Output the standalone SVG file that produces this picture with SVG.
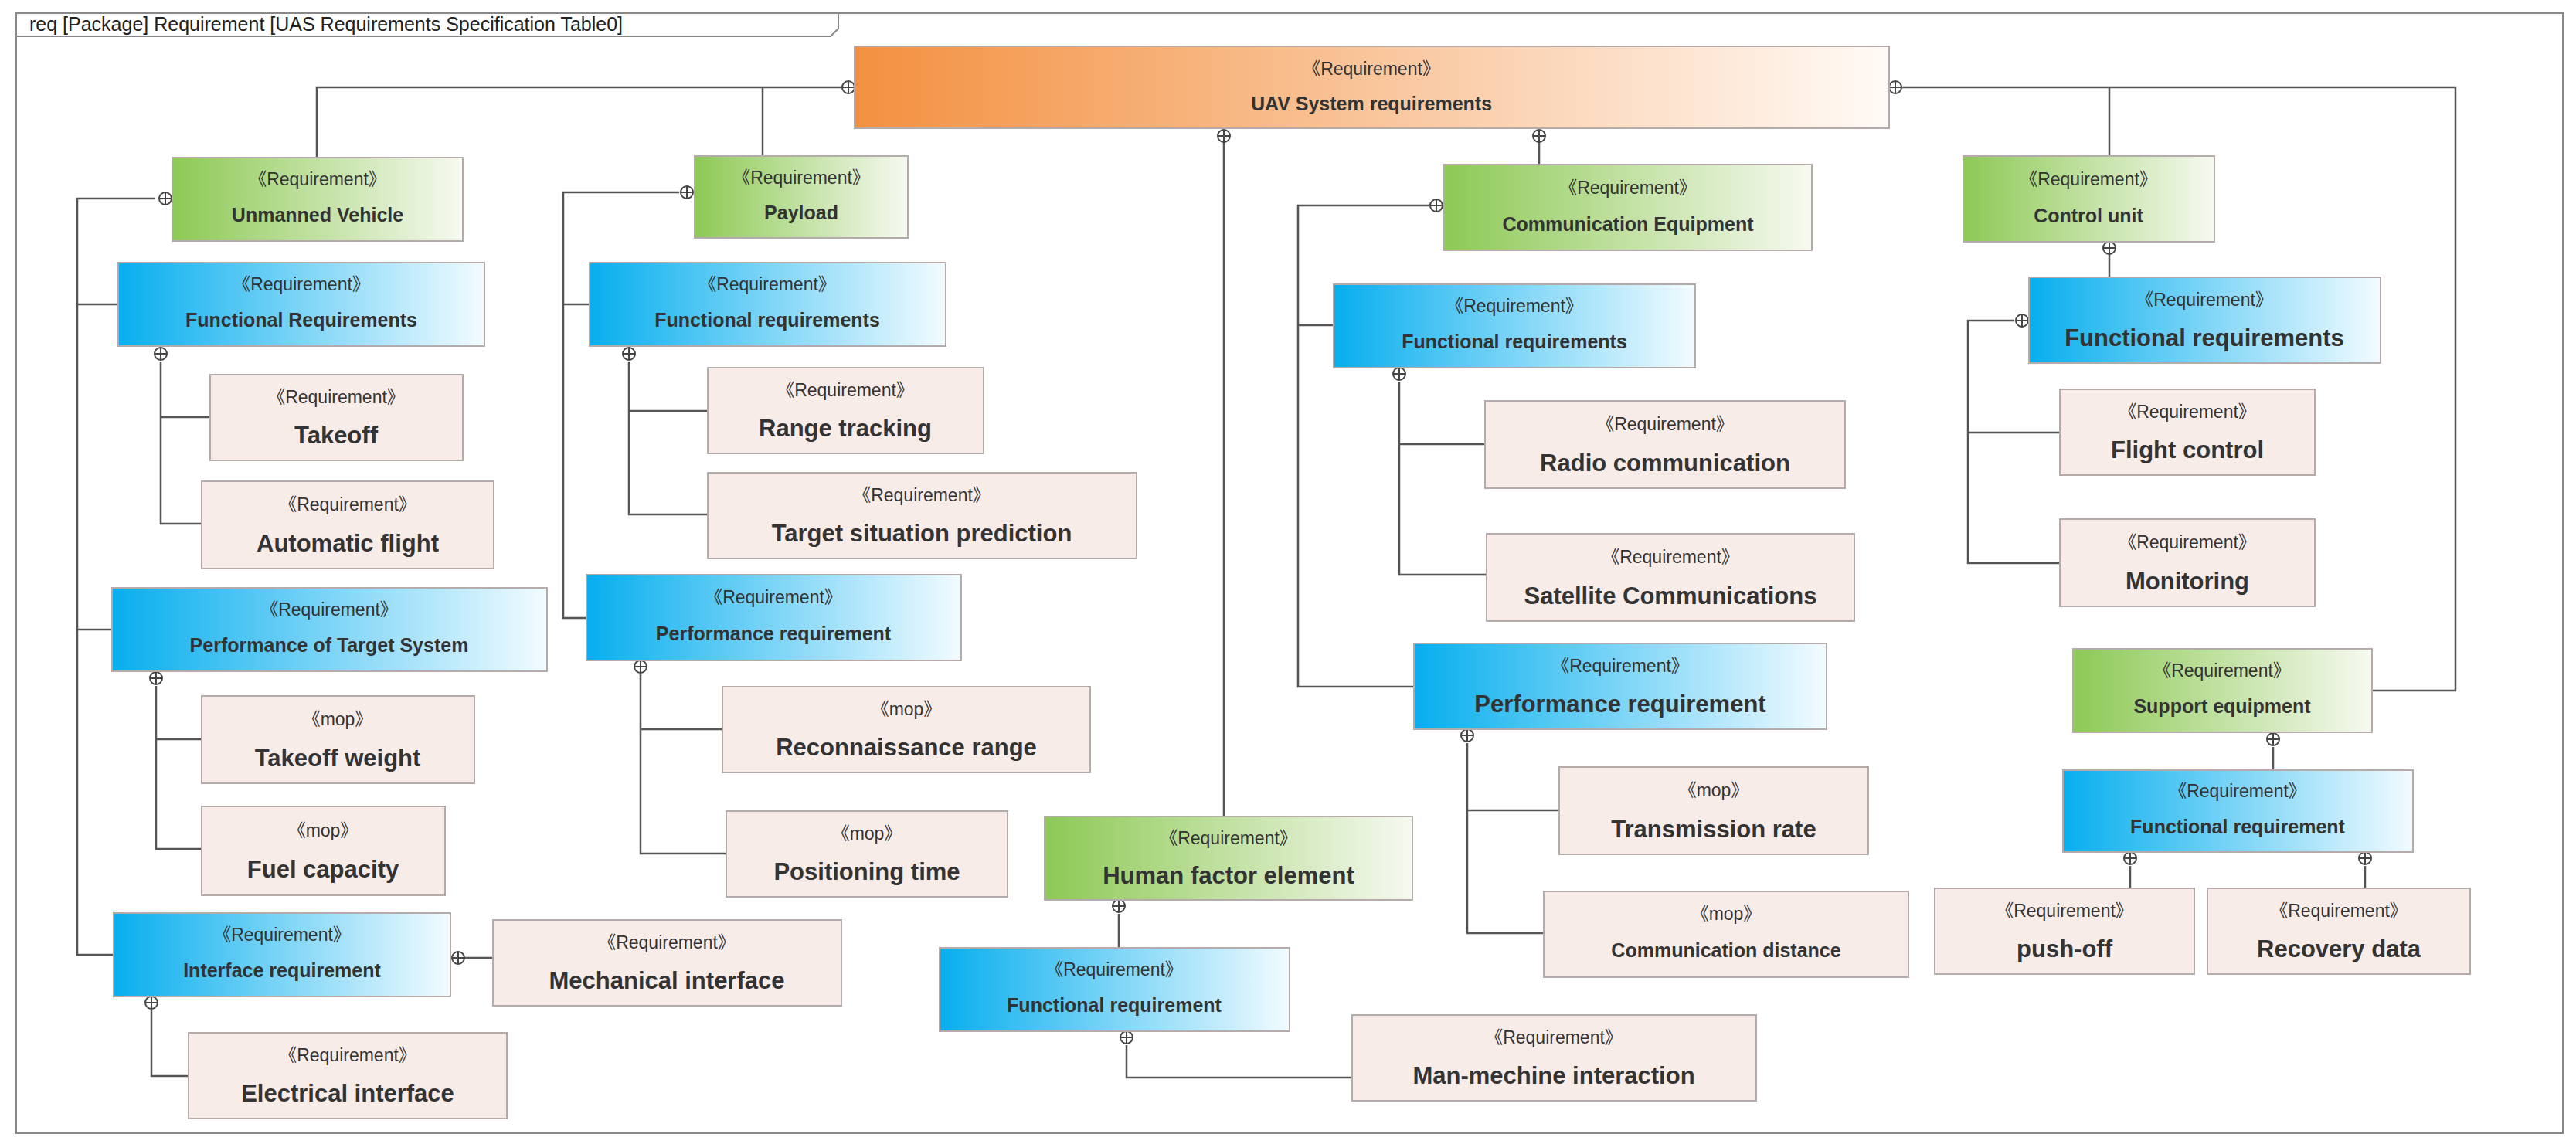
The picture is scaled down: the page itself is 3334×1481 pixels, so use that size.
<svg xmlns="http://www.w3.org/2000/svg" xmlns:xlink="http://www.w3.org/1999/xlink" width="3334" height="1481" viewBox="0 0 3334 1481">
<style>
text{font-family:"Liberation Sans","Noto Sans CJK SC",sans-serif;fill:#333;text-anchor:middle}
.st{font-size:23px}
.n{font-size:25px;font-weight:bold}
.b{font-size:31px;font-weight:bold}
.box{stroke:#b5abab;stroke-width:2}
.g{fill:url(#gG)}.bl{fill:url(#gB)}.o{fill:url(#gO)}.p{fill:#f8ece9}
.c{fill:none;stroke:#555;stroke-width:2.5}
</style>
<defs>
<linearGradient id="gG"><stop offset="0" stop-color="#8dc955"/><stop offset="1" stop-color="#f6f9f0"/></linearGradient>
<linearGradient id="gB"><stop offset="0" stop-color="#07aeee"/><stop offset="1" stop-color="#f2fbff"/></linearGradient>
<linearGradient id="gO"><stop offset="0" stop-color="#f39040"/><stop offset="1" stop-color="#fffaf6"/></linearGradient>
<g id="pl"><circle r="8" fill="#fff" stroke="#444" stroke-width="2"/><path d="M-8,0H8M0,-8V8" stroke="#444" stroke-width="2"/></g>
</defs>
<rect x="21" y="17" width="3296" height="1450" fill="#fff" stroke="#888" stroke-width="2"/>
<path d="M21,47H1075L1085,37V17" fill="none" stroke="#888" stroke-width="2"/>
<text x="38" y="40" style="font-size:25px;text-anchor:start;fill:#222">req [Package] Requirement [UAS Requirements Specification Table0]</text>
<g id="connectors">
<path class="c" d="M1098,113H410V204M987,113V202"/>
<path class="c" d="M2457,113H3178V894H3070M2730,113V202"/>
<path class="c" d="M1584,176V1057"/>
<path class="c" d="M1992,176V213"/>
<path class="c" d="M200,257H100V1236H147M100,394H153M100,815H145"/>
<path class="c" d="M208,468V678H261M208,540H272"/>
<path class="c" d="M202,888V1099H261M202,957H261"/>
<path class="c" d="M601,1240H638"/>
<path class="c" d="M196,1308V1393H244"/>
<path class="c" d="M879,249H729V800H759M729,394H763"/>
<path class="c" d="M814,468V666H916M814,532H916"/>
<path class="c" d="M829,873V1105H940M829,944H935"/>
<path class="c" d="M1448,1183V1227"/>
<path class="c" d="M1458,1353V1395H1750"/>
<path class="c" d="M1849,266H1680V889H1830M1680,421H1726"/>
<path class="c" d="M1811,494V744H1924M1811,575H1922"/>
<path class="c" d="M1899,962V1208H1998M1899,1049H2018"/>
<path class="c" d="M2730,329V359"/>
<path class="c" d="M2607,415H2547V729H2666M2547,560H2666"/>
<path class="c" d="M2942,967V997"/>
<path class="c" d="M2757,1121V1150M3061,1121V1150"/>
<use xlink:href="#pl" x="1098" y="113"/><use xlink:href="#pl" x="2453" y="113"/>
<use xlink:href="#pl" x="1584" y="176"/><use xlink:href="#pl" x="1992" y="176"/>
<use xlink:href="#pl" x="214" y="257"/><use xlink:href="#pl" x="208" y="458"/>
<use xlink:href="#pl" x="202" y="878"/><use xlink:href="#pl" x="593" y="1240"/>
<use xlink:href="#pl" x="196" y="1298"/><use xlink:href="#pl" x="889" y="249"/>
<use xlink:href="#pl" x="814" y="458"/><use xlink:href="#pl" x="829" y="863"/>
<use xlink:href="#pl" x="1448" y="1173"/><use xlink:href="#pl" x="1458" y="1343"/>
<use xlink:href="#pl" x="1859" y="266"/><use xlink:href="#pl" x="1811" y="484"/>
<use xlink:href="#pl" x="1899" y="952"/><use xlink:href="#pl" x="2730" y="321"/>
<use xlink:href="#pl" x="2617" y="415"/><use xlink:href="#pl" x="2942" y="957"/>
<use xlink:href="#pl" x="2757" y="1111"/><use xlink:href="#pl" x="3061" y="1111"/>
</g>
<g id="uav"><rect class="box o" x="1106" y="60" width="1339" height="106"/><text class="st" x="1775" y="97">《Requirement》</text><text class="n" x="1775" y="143">UAV System requirements</text></g>
<g id="uv"><rect class="box g" x="223" y="204" width="376" height="108"/><text class="st" x="411" y="240">《Requirement》</text><text class="n" x="411" y="287">Unmanned Vehicle</text></g>
<g id="payload"><rect class="box g" x="899" y="202" width="276" height="106"/><text class="st" x="1037" y="238">《Requirement》</text><text class="n" x="1037" y="284">Payload</text></g>
<g id="commeq"><rect class="box g" x="1869" y="213" width="476" height="111"/><text class="st" x="2107" y="251">《Requirement》</text><text class="n" x="2107" y="299">Communication Equipment</text></g>
<g id="cu"><rect class="box g" x="2541" y="202" width="325" height="111"/><text class="st" x="2703" y="240">《Requirement》</text><text class="n" x="2703" y="288">Control unit</text></g>
<g id="fr-uv"><rect class="box bl" x="153" y="340" width="474" height="108"/><text class="st" x="390" y="376">《Requirement》</text><text class="n" x="390" y="423">Functional Requirements</text></g>
<g id="takeoff"><rect class="box p" x="272" y="485" width="327" height="111"/><text class="st" x="435" y="522">《Requirement》</text><text class="b" x="435" y="574">Takeoff</text></g>
<g id="autoflight"><rect class="box p" x="261" y="623" width="378" height="113"/><text class="st" x="450" y="661">《Requirement》</text><text class="b" x="450" y="714">Automatic flight</text></g>
<g id="pts"><rect class="box bl" x="145" y="761" width="563" height="108"/><text class="st" x="426" y="797">《Requirement》</text><text class="n" x="426" y="844">Performance of Target System</text></g>
<g id="tw"><rect class="box p" x="261" y="901" width="353" height="113"/><text class="st" x="437" y="939">《mop》</text><text class="b" x="437" y="992">Takeoff weight</text></g>
<g id="fuel"><rect class="box p" x="261" y="1044" width="315" height="115"/><text class="st" x="418" y="1083">《mop》</text><text class="b" x="418" y="1136">Fuel capacity</text></g>
<g id="ir"><rect class="box bl" x="147" y="1182" width="436" height="108"/><text class="st" x="365" y="1218">《Requirement》</text><text class="n" x="365" y="1265">Interface requirement</text></g>
<g id="mech"><rect class="box p" x="638" y="1191" width="451" height="111"/><text class="st" x="863" y="1228">《Requirement》</text><text class="b" x="863" y="1280">Mechanical interface</text></g>
<g id="elec"><rect class="box p" x="244" y="1337" width="412" height="111"/><text class="st" x="450" y="1374">《Requirement》</text><text class="b" x="450" y="1426">Electrical interface</text></g>
<g id="fr-p"><rect class="box bl" x="763" y="340" width="461" height="108"/><text class="st" x="993" y="376">《Requirement》</text><text class="n" x="993" y="423">Functional requirements</text></g>
<g id="range"><rect class="box p" x="916" y="476" width="357" height="111"/><text class="st" x="1094" y="513">《Requirement》</text><text class="b" x="1094" y="565">Range tracking</text></g>
<g id="tsp"><rect class="box p" x="916" y="612" width="555" height="111"/><text class="st" x="1193" y="649">《Requirement》</text><text class="b" x="1193" y="701">Target situation prediction</text></g>
<g id="pr-p"><rect class="box bl" x="759" y="744" width="485" height="111"/><text class="st" x="1001" y="781">《Requirement》</text><text class="n" x="1001" y="829">Performance requirement</text></g>
<g id="recon"><rect class="box p" x="935" y="889" width="476" height="111"/><text class="st" x="1173" y="926">《mop》</text><text class="b" x="1173" y="978">Reconnaissance range</text></g>
<g id="pos"><rect class="box p" x="940" y="1050" width="364" height="111"/><text class="st" x="1122" y="1087">《mop》</text><text class="b" x="1122" y="1139">Positioning time</text></g>
<g id="hf"><rect class="box g" x="1352" y="1057" width="476" height="108"/><text class="st" x="1590" y="1093">《Requirement》</text><text class="b" x="1590" y="1144">Human factor element</text></g>
<g id="fr-hf"><rect class="box bl" x="1216" y="1227" width="453" height="108"/><text class="st" x="1442" y="1263">《Requirement》</text><text class="n" x="1442" y="1310">Functional requirement</text></g>
<g id="mmi"><rect class="box p" x="1750" y="1314" width="523" height="111"/><text class="st" x="2011" y="1351">《Requirement》</text><text class="b" x="2011" y="1403">Man-mechine interaction</text></g>
<g id="fr-c"><rect class="box bl" x="1726" y="368" width="468" height="108"/><text class="st" x="1960" y="404">《Requirement》</text><text class="n" x="1960" y="451">Functional requirements</text></g>
<g id="radio"><rect class="box p" x="1922" y="519" width="466" height="113"/><text class="st" x="2155" y="557">《Requirement》</text><text class="b" x="2155" y="610">Radio communication</text></g>
<g id="sat"><rect class="box p" x="1924" y="691" width="476" height="113"/><text class="st" x="2162" y="729">《Requirement》</text><text class="b" x="2162" y="782">Satellite Communications</text></g>
<g id="pr-c"><rect class="box bl" x="1830" y="833" width="534" height="111"/><text class="st" x="2097" y="870">《Requirement》</text><text class="b" x="2097" y="922">Performance requirement</text></g>
<g id="trans"><rect class="box p" x="2018" y="993" width="400" height="113"/><text class="st" x="2218" y="1031">《mop》</text><text class="b" x="2218" y="1084">Transmission rate</text></g>
<g id="cdist"><rect class="box p" x="1998" y="1154" width="472" height="111"/><text class="st" x="2234" y="1191">《mop》</text><text class="n" x="2234" y="1239">Communication distance</text></g>
<g id="fr-cu"><rect class="box bl" x="2626" y="359" width="455" height="111"/><text class="st" x="2853" y="396">《Requirement》</text><text class="b" x="2853" y="448">Functional requirements</text></g>
<g id="flight"><rect class="box p" x="2666" y="504" width="330" height="111"/><text class="st" x="2831" y="541">《Requirement》</text><text class="b" x="2831" y="593">Flight control</text></g>
<g id="monitor"><rect class="box p" x="2666" y="672" width="330" height="113"/><text class="st" x="2831" y="710">《Requirement》</text><text class="b" x="2831" y="763">Monitoring</text></g>
<g id="se"><rect class="box g" x="2683" y="840" width="387" height="108"/><text class="st" x="2876" y="876">《Requirement》</text><text class="n" x="2876" y="923">Support equipment</text></g>
<g id="fr-se"><rect class="box bl" x="2670" y="997" width="453" height="106"/><text class="st" x="2896" y="1032">《Requirement》</text><text class="n" x="2896" y="1079">Functional requirement</text></g>
<g id="push"><rect class="box p" x="2504" y="1150" width="336" height="111"/><text class="st" x="2672" y="1187">《Requirement》</text><text class="b" x="2672" y="1239">push-off</text></g>
<g id="recovery"><rect class="box p" x="2857" y="1150" width="340" height="111"/><text class="st" x="3027" y="1187">《Requirement》</text><text class="b" x="3027" y="1239">Recovery data</text></g>
</svg>
